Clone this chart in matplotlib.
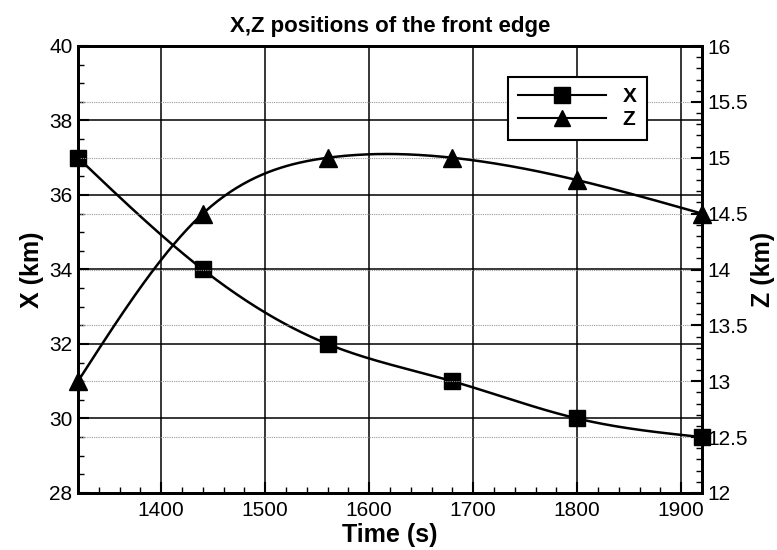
import numpy as np
import matplotlib.pyplot as plt
from matplotlib.ticker import MultipleLocator

plt.rcParams['font.family'] = ['Liberation Sans', 'DejaVu Sans']

# data
time_s = [1320, 1440, 1560, 1680, 1800, 1920]
x_km = [37.0, 34.0, 32.0, 31.0, 30.0, 29.5]
z_km = [13.0, 14.5, 15.0, 15.0, 14.8, 14.5]


def natural_spline(xp, yp, n=300):
    # smooth curve through the points (natural cubic spline)
    xp = np.asarray(xp, float)
    yp = np.asarray(yp, float)
    m = len(xp)
    h = np.diff(xp)
    A = np.zeros((m, m))
    b = np.zeros(m)
    A[0, 0] = A[-1, -1] = 1.0
    for i in range(1, m - 1):
        A[i, i - 1] = h[i - 1]
        A[i, i] = 2 * (h[i - 1] + h[i])
        A[i, i + 1] = h[i]
        b[i] = 6 * ((yp[i + 1] - yp[i]) / h[i] - (yp[i] - yp[i - 1]) / h[i - 1])
    M = np.linalg.solve(A, b)
    xs = np.linspace(xp[0], xp[-1], n)
    k = np.clip(np.searchsorted(xp, xs) - 1, 0, m - 2)
    t0 = xs - xp[k]
    t1 = xp[k + 1] - xs
    hk = h[k]
    ys = (M[k] * t1 ** 3 + M[k + 1] * t0 ** 3) / (6 * hk) \
        + (yp[k] / hk - M[k] * hk / 6) * t1 + (yp[k + 1] / hk - M[k + 1] * hk / 6) * t0
    return xs, ys


fig = plt.figure(figsize=(7.77, 5.5), dpi=100)
ax = fig.add_axes([78 / 777, 57 / 550, 624 / 777, 447 / 550])
ax2 = ax.twinx()

ax.set_xlim(1320, 1920)
ax.set_ylim(28, 40)
ax2.set_ylim(12, 16)
ax.xaxis.set_major_locator(MultipleLocator(100))
ax.xaxis.set_minor_locator(MultipleLocator(20))
ax.yaxis.set_major_locator(MultipleLocator(2))
ax.yaxis.set_minor_locator(MultipleLocator(0.5))
ax2.yaxis.set_minor_locator(MultipleLocator(0.1))
ax2.set_yticks([12, 12.5, 13, 13.5, 14, 14.5, 15, 15.5, 16])
ax2.set_yticklabels(['12', '12.5', '13', '13.5', '14', '14.5', '15', '15.5', '16'])

# grid: solid for left axis / time, dotted for right axis
ax.grid(True, which='major', color='black', linewidth=1.1)
ax2.grid(True, which='major', axis='y', color='#999999', linestyle=(0, (1, 1)), linewidth=0.8)
ax.set_axisbelow(True)
ax2.set_axisbelow(True)

for a in (ax, ax2):
    a.tick_params(which='major', direction='in', length=8, width=1.5, labelsize=15, pad=4)
    a.tick_params(which='minor', direction='in', length=4, width=1.0)
    for s in a.spines.values():
        s.set_linewidth(2)
ax.tick_params(axis='x', pad=6)

xs, xsm = natural_spline(time_s, x_km)
zs, zsm = natural_spline(time_s, z_km)
ax.plot(xs, xsm, color='black', linewidth=1.8, zorder=3)
ax.plot(time_s, x_km, linestyle='none', marker='s', markersize=12, color='black',
        clip_on=False, zorder=4)
ax2.plot(zs, zsm, color='black', linewidth=1.8, zorder=3)
ax2.plot(time_s, z_km, linestyle='none', marker='^', markersize=13, color='black',
         clip_on=False, zorder=4)

# legend proxies
hx, = ax2.plot([], [], color='black', linewidth=1.5, marker='s', markersize=11)
hz, = ax2.plot([], [], color='black', linewidth=1.5, marker='^', markersize=12)
leg = ax2.legend([hx, hz], ['X', 'Z'], loc='upper left', bbox_to_anchor=(0.689, 0.931),
                 borderaxespad=0, frameon=True, fancybox=False, edgecolor='black',
                 framealpha=1, handlelength=4.2, prop={'weight': 'bold', 'size': 15},
                 borderpad=0.5, labelspacing=0.2, handletextpad=0.8)
leg.get_frame().set_linewidth(1.5)

ax.set_title('X,Z positions of the front edge', fontsize=16, fontweight='bold', pad=10)
ax.set_xlabel('Time (s)', fontsize=18, fontweight='bold', labelpad=2)
ax.set_ylabel('X (km)', fontsize=18, fontweight='bold', labelpad=4)
ax2.set_ylabel('Z (km)', fontsize=18, fontweight='bold', rotation=90, labelpad=2)

plt.savefig('out.png', dpi=100)
